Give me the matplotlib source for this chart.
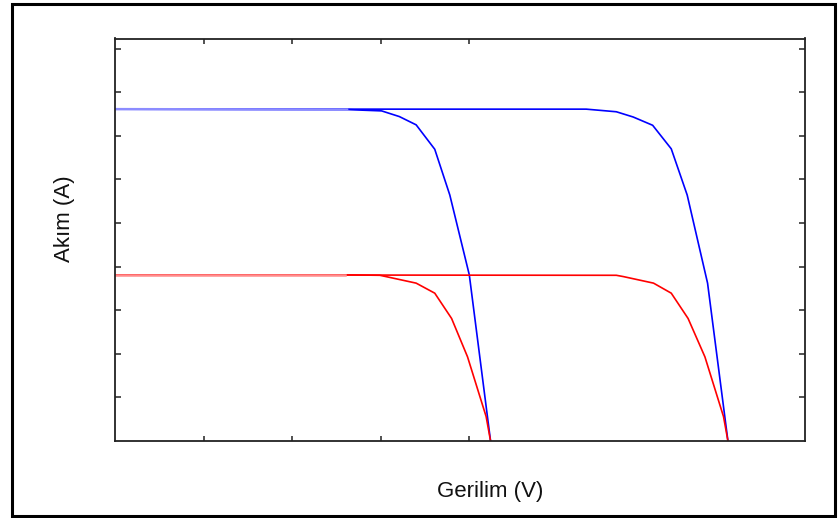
import matplotlib
matplotlib.use('Agg')
import matplotlib.pyplot as plt
from matplotlib.patches import Rectangle

# I-V curves (x in tick units of V, y in tick units of A)
V_blue1 = [0, 2.62, 3.01, 3.21, 3.40, 3.61, 3.78, 4.00, 4.24]
I_blue1 = [7.61, 7.60, 7.57, 7.44, 7.25, 6.69, 5.64, 3.81, 0]

V_blue2 = [0, 5.32, 5.66, 5.85, 6.07, 6.28, 6.46, 6.69, 6.92]
I_blue2 = [7.61, 7.61, 7.55, 7.43, 7.24, 6.70, 5.64, 3.62, 0]

V_red1 = [0, 2.60, 2.99, 3.06, 3.40, 3.61, 3.80, 3.98, 4.19, 4.24]
I_red1 = [3.81, 3.81, 3.80, 3.77, 3.62, 3.39, 2.81, 1.93, 0.56, 0]

V_red2 = [0, 5.66, 5.74, 6.08, 6.28, 6.47, 6.66, 6.87, 6.92]
I_red2 = [3.81, 3.80, 3.77, 3.62, 3.39, 2.81, 1.93, 0.56, 0]

x_ticks = [1, 2, 3, 4]
y_ticks = [1, 2, 3, 4, 5, 6, 7, 8, 9]

plt.rcParams['font.family'] = ['Liberation Sans', 'DejaVu Sans']

fig = plt.figure(figsize=(8.38, 5.18), dpi=100)
ax = fig.add_axes([115 / 838, 1 - 441 / 518, 690 / 838, 402.5 / 518])

lw = 1.2
ax.plot(V_blue2, I_blue2, color='#0000ff', lw=lw)
ax.plot(V_blue1, I_blue1, color='#0000ff', lw=lw)
ax.plot(V_red2, I_red2, color='#ff0000', lw=lw)
ax.plot(V_red1, I_red1, color='#ff0000', lw=lw)
# lighter overlapping start of the flat parts
ax.plot(V_blue1[:2], I_blue1[:2], color='#8c8cff', lw=1.8)
ax.plot(V_red1[:2], I_red1[:2], color='#ff8c8c', lw=1.8)

ax.set_xlim(0, 7.79)
ax.set_ylim(0, 9.23)
ax.set_xticks(x_ticks)
ax.set_yticks(y_ticks)
ax.set_xticklabels([])
ax.set_yticklabels([])
ax.tick_params(axis='x', direction='in', length=3.5, width=1.1, color='#222222',
               top=True, bottom=True)
ax.tick_params(axis='y', direction='in', length=4, width=1.1, color='#222222',
               left=True, right=True)
for s in ax.spines.values():
    s.set_color('#222222')
    s.set_linewidth(1.3)

fig.text(490 / 838, 1 - 497 / 518, 'Gerilim (V)', ha='center', va='baseline',
         fontsize=16, color='#111111')
fig.text(64 / 838, 1 - 219 / 518, 'Akım (A)', ha='center', va='center',
         rotation=90, fontsize=16, color='#111111')

# outer frame around the whole picture
fig.patches.append(Rectangle((11.5 / 838, 2.5 / 518), 823 / 838, 512 / 518,
                             transform=fig.transFigure, fill=False,
                             edgecolor='black', lw=2.2))

fig.savefig('out.png', dpi=100)
